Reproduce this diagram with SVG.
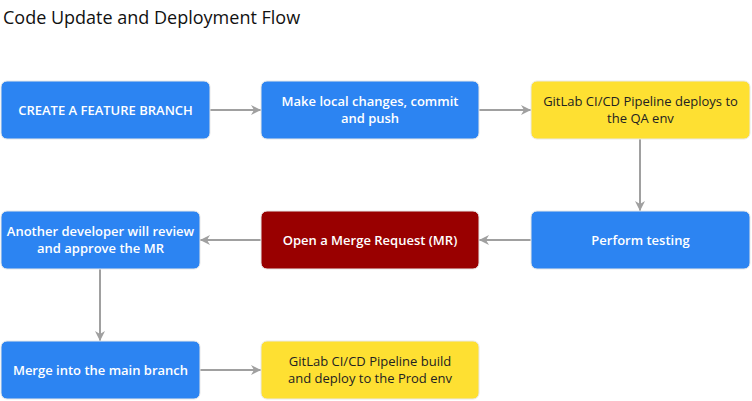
<svg xmlns="http://www.w3.org/2000/svg" width="752" height="401" viewBox="0 0 752 401">
<style>
.title{font-family:"Open Sans",sans-serif;font-size:18px;fill:#111}
.box{stroke:#e8e8e8;stroke-width:1}
.blue{fill:#2c84f2}
.red{fill:#990000}
.yellow{fill:#fee032}
.t{font-family:"Open Sans",sans-serif;font-size:13px;font-weight:600;text-anchor:middle}
.w{fill:#ffffff}
.d{fill:#222222;font-weight:500}
.c{stroke:#a0a0a0;stroke-width:2;fill:none;marker-end:url(#ah)}
</style>
<defs>
<marker id="ah" viewBox="0 0 10 10" refX="10" refY="5" markerWidth="10" markerHeight="10" markerUnits="userSpaceOnUse" orient="auto">
<path d="M0,0 L10,5 L0,10 L3,5 z" fill="#a0a0a0"/>
</marker>
</defs>
<rect width="752" height="401" fill="#ffffff"/>
<text class="title" x="3" y="24">Code Update and Deployment Flow</text>
<g id="connectors">
<line class="c" x1="210" y1="110" x2="261" y2="110"/>
<line class="c" x1="479" y1="110" x2="531" y2="110"/>
<line class="c" x1="640" y1="139" x2="640" y2="211"/>
<line class="c" x1="531" y1="240" x2="479" y2="240"/>
<line class="c" x1="261" y1="240" x2="200" y2="240"/>
<line class="c" x1="100" y1="269" x2="100" y2="341"/>
<line class="c" x1="200" y1="370" x2="261" y2="370"/>
</g>
<g id="n1"><rect class="box blue" x="1" y="81" width="209" height="58" rx="6"/><text class="t w" x="105.5" y="114.5">CREATE A FEATURE BRANCH</text></g>
<g id="n2"><rect class="box blue" x="261" y="81" width="218" height="58" rx="6"/><text class="t w" x="370" y="106">Make local changes, commit</text><text class="t w" x="370" y="122.5">and push</text></g>
<g id="n3"><rect class="box yellow" x="531" y="81" width="219" height="58" rx="6"/><text class="t d" x="640.5" y="106">GitLab CI/CD Pipeline deploys to</text><text class="t d" x="640.5" y="122.5">the QA env</text></g>
<g id="n4"><rect class="box blue" x="531" y="211" width="219" height="58" rx="6"/><text class="t w" x="640.5" y="244.5">Perform testing</text></g>
<g id="n5"><rect class="box red" x="261" y="211" width="218" height="58" rx="6"/><text class="t w" x="370" y="244.5">Open a Merge Request (MR)</text></g>
<g id="n6"><rect class="box blue" x="1" y="211" width="199" height="58" rx="6"/><text class="t w" x="100.5" y="236">Another developer will review</text><text class="t w" x="100.5" y="252.5">and approve the MR</text></g>
<g id="n7"><rect class="box blue" x="1" y="341" width="199" height="58" rx="6"/><text class="t w" x="100.5" y="374.5">Merge into the main branch</text></g>
<g id="n8"><rect class="box yellow" x="261" y="341" width="218" height="58" rx="6"/><text class="t d" x="370" y="366">GitLab CI/CD Pipeline build</text><text class="t d" x="370" y="382.5">and deploy to the Prod env</text></g>
</svg>
